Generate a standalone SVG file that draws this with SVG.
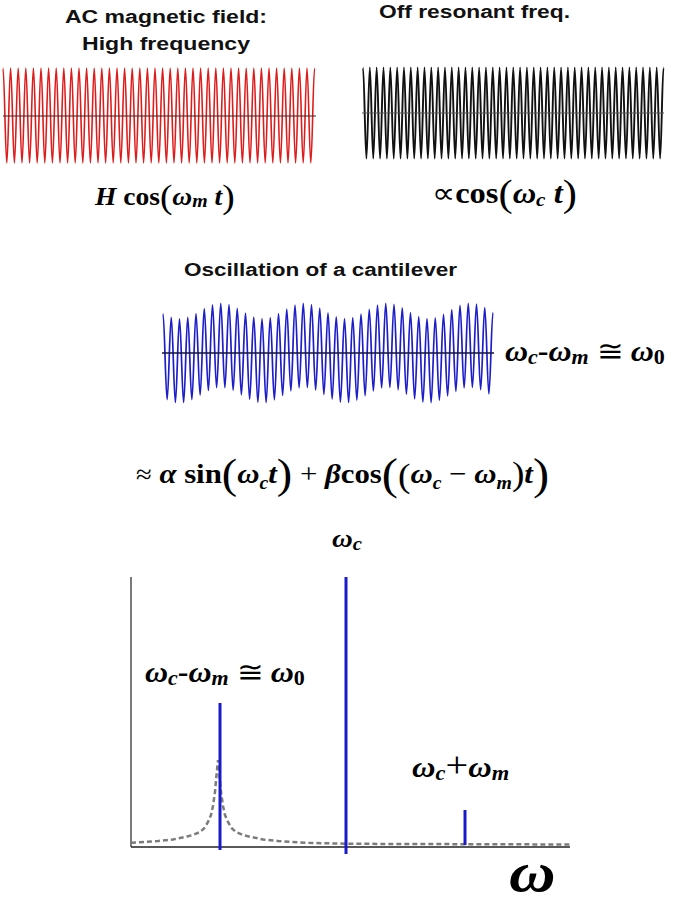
<svg xmlns="http://www.w3.org/2000/svg" width="685" height="904" viewBox="0 0 685 904">
<style>
.h{font-family:"Liberation Sans",Arial,sans-serif;font-weight:bold;font-size:18px;fill:#111}
.m{font-family:"Liberation Serif","Times New Roman",serif;font-weight:bold;fill:#000}
.i{font-style:italic}
.n{font-weight:normal}
.ax{stroke:#222;stroke-width:1.2;fill:none}
.spk{stroke:#1a1ac8;stroke-width:3;fill:none}
</style>
<rect width="685" height="904" fill="#fff"/>

<g id="red-wave">
<path fill="none" stroke="#dd1c1c" stroke-width="1.6" d="M3,68 c1.384,0 2.416,95 3.8,95
s2.416,-95 3.8,-95 s2.416,95 3.8,95 s2.416,-95 3.8,-95 s2.416,95 3.8,95 s2.416,-95 3.8,-95 s2.416,95 3.8,95 s2.416,-95 3.8,-95 s2.416,95 3.8,95 s2.416,-95 3.8,-95 s2.416,95 3.8,95
s2.416,-95 3.8,-95 s2.416,95 3.8,95 s2.416,-95 3.8,-95 s2.416,95 3.8,95 s2.416,-95 3.8,-95 s2.416,95 3.8,95 s2.416,-95 3.8,-95 s2.416,95 3.8,95 s2.416,-95 3.8,-95 s2.416,95 3.8,95
s2.416,-95 3.8,-95 s2.416,95 3.8,95 s2.416,-95 3.8,-95 s2.416,95 3.8,95 s2.416,-95 3.8,-95 s2.416,95 3.8,95 s2.416,-95 3.8,-95 s2.416,95 3.8,95 s2.416,-95 3.8,-95 s2.416,95 3.8,95
s2.416,-95 3.8,-95 s2.416,95 3.8,95 s2.416,-95 3.8,-95 s2.416,95 3.8,95 s2.416,-95 3.8,-95 s2.416,95 3.8,95 s2.416,-95 3.8,-95 s2.416,95 3.8,95 s2.416,-95 3.8,-95 s2.416,95 3.8,95
s2.416,-95 3.8,-95 s2.416,95 3.8,95 s2.416,-95 3.8,-95 s2.416,95 3.8,95 s2.416,-95 3.8,-95 s2.416,95 3.8,95 s2.416,-95 3.8,-95 s2.416,95 3.8,95 s2.416,-95 3.8,-95 s2.416,95 3.8,95
s2.416,-95 3.8,-95 s2.416,95 3.8,95 s2.416,-95 3.8,-95 s2.416,95 3.8,95 s2.416,-95 3.8,-95 s2.416,95 3.8,95 s2.416,-95 3.8,-95 s2.416,95 3.8,95 s2.416,-95 3.8,-95 s2.416,95 3.8,95
s2.416,-95 3.8,-95 s2.416,95 3.8,95 s2.416,-95 3.8,-95 s2.416,95 3.8,95 s2.416,-95 3.8,-95 s2.416,95 3.8,95 s2.416,-95 3.8,-95 s2.416,95 3.8,95 s2.416,-95 3.8,-95 s2.416,95 3.8,95
s2.416,-95 3.8,-95 s2.416,95 3.8,95 s2.416,-95 3.8,-95 s2.416,95 3.8,95 s2.416,-95 3.8,-95 s2.416,95 3.8,95 s2.416,-95 3.8,-95 s2.416,95 3.8,95 s2.416,-95 3.8,-95 s2.416,95 3.8,95
s2.416,-95 3.8,-95"/>
<line x1="3" y1="116" x2="316" y2="116" stroke="#3a2020" stroke-width="1"/>
</g>

<g id="black-wave">
<path fill="none" stroke="#111" stroke-width="1.9" d="M363,67.5 c1.244,0 2.171,91 3.415,91
s2.171,-91 3.415,-91 s2.171,91 3.415,91 s2.171,-91 3.415,-91 s2.171,91 3.415,91 s2.171,-91 3.415,-91 s2.171,91 3.415,91 s2.171,-91 3.415,-91 s2.171,91 3.415,91 s2.171,-91 3.415,-91 s2.171,91 3.415,91
s2.171,-91 3.415,-91 s2.171,91 3.415,91 s2.171,-91 3.415,-91 s2.171,91 3.415,91 s2.171,-91 3.415,-91 s2.171,91 3.415,91 s2.171,-91 3.415,-91 s2.171,91 3.415,91 s2.171,-91 3.415,-91 s2.171,91 3.415,91
s2.171,-91 3.415,-91 s2.171,91 3.415,91 s2.171,-91 3.415,-91 s2.171,91 3.415,91 s2.171,-91 3.415,-91 s2.171,91 3.415,91 s2.171,-91 3.415,-91 s2.171,91 3.415,91 s2.171,-91 3.415,-91 s2.171,91 3.415,91
s2.171,-91 3.415,-91 s2.171,91 3.415,91 s2.171,-91 3.415,-91 s2.171,91 3.415,91 s2.171,-91 3.415,-91 s2.171,91 3.415,91 s2.171,-91 3.415,-91 s2.171,91 3.415,91 s2.171,-91 3.415,-91 s2.171,91 3.415,91
s2.171,-91 3.415,-91 s2.171,91 3.415,91 s2.171,-91 3.415,-91 s2.171,91 3.415,91 s2.171,-91 3.415,-91 s2.171,91 3.415,91 s2.171,-91 3.415,-91 s2.171,91 3.415,91 s2.171,-91 3.415,-91 s2.171,91 3.415,91
s2.171,-91 3.415,-91 s2.171,91 3.415,91 s2.171,-91 3.415,-91 s2.171,91 3.415,91 s2.171,-91 3.415,-91 s2.171,91 3.415,91 s2.171,-91 3.415,-91 s2.171,91 3.415,91 s2.171,-91 3.415,-91 s2.171,91 3.415,91
s2.171,-91 3.415,-91 s2.171,91 3.415,91 s2.171,-91 3.415,-91 s2.171,91 3.415,91 s2.171,-91 3.415,-91 s2.171,91 3.415,91 s2.171,-91 3.415,-91 s2.171,91 3.415,91 s2.171,-91 3.415,-91 s2.171,91 3.415,91
s2.171,-91 3.415,-91 s2.171,91 3.415,91 s2.171,-91 3.415,-91 s2.171,91 3.415,91 s2.171,-91 3.415,-91 s2.171,91 3.415,91 s2.171,-91 3.415,-91 s2.171,91 3.415,91 s2.171,-91 3.415,-91 s2.171,91 3.415,91
s2.171,-91 3.415,-91 s2.171,91 3.415,91 s2.171,-91 3.415,-91 s2.171,91 3.415,91 s2.171,-91 3.415,-91 s2.171,91 3.415,91
s2.171,-91 3.415,-91"/>
<line x1="362" y1="113" x2="664" y2="113" stroke="#555" stroke-width="1"/>
</g>

<g id="blue-wave">
<path fill="none" stroke="#1e1ec8" stroke-width="1.7" d="M163,313.5 C164.502,313.5 165.623,399.6 167.125,399.6
S169.748,317.3 171.25,317.3 S173.873,402.4 175.375,402.4 S177.998,318.8 179.5,318.8 S182.123,402.4 183.625,402.4 S186.248,317.3 187.75,317.3 S190.373,399.6 191.875,399.6 S194.498,313.5 196,313.5 S198.623,395.1 200.125,395.1
S202.748,308.7 204.25,308.7 S206.873,390.5 208.375,390.5 S210.998,304.8 212.5,304.8 S215.123,387.7 216.625,387.7 S219.248,303.3 220.75,303.3 S223.373,387.6 224.875,387.6 S227.498,304.6 229,304.6 S231.623,390.3 233.125,390.3
S235.748,308.4 237.25,308.4 S239.873,394.8 241.375,394.8 S243.998,313.2 245.5,313.2 S248.123,399.4 249.625,399.4 S252.248,317.1 253.75,317.1 S256.373,402.3 257.875,402.3 S260.498,318.7 262,318.7 S264.623,402.5 266.125,402.5
S268.748,317.5 270.25,317.5 S272.873,399.8 274.375,399.8 S276.998,313.7 278.5,313.7 S281.123,395.4 282.625,395.4 S285.248,309 286.75,309 S289.373,390.8 290.875,390.8 S293.498,305 295,305 S297.623,387.8 299.125,387.8
S301.748,303.3 303.25,303.3 S305.873,387.5 307.375,387.5 S309.998,304.5 311.5,304.5 S314.123,390.1 315.625,390.1 S318.248,308.1 319.75,308.1 S322.373,394.5 323.875,394.5 S326.498,312.9 328,312.9 S330.623,399.1 332.125,399.1
S334.748,316.9 336.25,316.9 S338.873,402.2 340.375,402.2 S342.998,318.7 344.5,318.7 S347.123,402.5 348.625,402.5 S351.248,317.6 352.75,317.6 S355.373,400.1 356.875,400.1 S359.498,314 361,314 S363.623,395.7 365.125,395.7
S367.748,309.3 369.25,309.3 S371.873,391 373.375,391 S375.998,305.2 377.5,305.2 S380.123,387.9 381.625,387.9 S384.248,303.3 385.75,303.3 S388.373,387.4 389.875,387.4 S392.498,304.3 394,304.3 S396.623,389.8 398.125,389.8
S400.748,307.9 402.25,307.9 S404.873,394.2 406.375,394.2 S408.998,312.6 410.5,312.6 S413.123,398.9 414.625,398.9 S417.248,316.7 418.75,316.7 S421.373,402.1 422.875,402.1 S425.498,318.7 427,318.7 S429.623,402.6 431.125,402.6
S433.748,317.8 435.25,317.8 S437.873,400.3 439.375,400.3 S441.998,314.3 443.5,314.3 S446.123,396 447.625,396 S450.248,309.5 451.75,309.5 S454.373,391.3 455.875,391.3 S458.498,305.4 460,305.4 S462.623,388 464.125,388
S466.748,303.3 468.25,303.3 S470.873,387.4 472.375,387.4 S474.998,304.2 476.5,304.2 S479.123,389.6 480.625,389.6 S483.248,307.6 484.75,307.6 S487.373,393.9 488.875,393.9 S491.498,312.3 493,312.3"/>
<line x1="162" y1="353" x2="494" y2="353" stroke="#15153a" stroke-width="1.5"/>
</g>

<g id="titles">
<text class="h" x="65" y="23" textLength="202" lengthAdjust="spacingAndGlyphs">AC magnetic field:</text>
<text class="h" x="82" y="50" textLength="168" lengthAdjust="spacingAndGlyphs">High frequency</text>
<text class="h" x="379" y="18" textLength="191" lengthAdjust="spacingAndGlyphs">Off resonant freq.</text>
<text class="h" x="184" y="276" textLength="273" lengthAdjust="spacingAndGlyphs">Oscillation of a cantilever</text>
</g>

<g id="formulas">
<text class="m" font-size="25" transform="translate(95,205) scale(1.1,1)"><tspan class="i">H</tspan> cos<tspan class="n" font-size="34" dy="3">(</tspan><tspan class="i" dy="-3">ω</tspan><tspan class="i" font-size="18" dy="2">m</tspan><tspan class="i" dy="-2"> t</tspan><tspan class="n" font-size="34" dy="3">)</tspan></text>
<text class="m" font-size="29" transform="translate(432,203) scale(1.12,1)"><tspan class="n">∝</tspan>cos<tspan class="n" font-size="38" dy="3">(</tspan><tspan class="i" dy="-3">ω</tspan><tspan class="i" font-size="19" dy="3">c</tspan><tspan class="i" dy="-3"> t</tspan><tspan class="n" font-size="38" dy="3">)</tspan></text>
<text class="m" font-size="29" transform="translate(505,361) scale(1.1,1)"><tspan class="i">ω</tspan><tspan class="i" font-size="20" dy="3">c</tspan><tspan dy="-3">-</tspan><tspan class="i">ω</tspan><tspan class="i" font-size="20" dy="3">m</tspan><tspan class="n" dy="-3"> ≅ </tspan><tspan class="i">ω</tspan><tspan font-size="20" dy="3">0</tspan></text>
<text class="m" font-size="28" transform="translate(136,483) scale(1.1,1)"><tspan class="n" font-size="26">≈</tspan> <tspan class="i">α</tspan> sin<tspan class="n" font-size="42" dy="5">(</tspan><tspan class="i" dy="-5">ω</tspan><tspan class="i" font-size="18" dy="6">c</tspan><tspan class="i" dy="-6">t</tspan><tspan class="n" font-size="42" dy="5">)</tspan><tspan class="n" dy="-5"> + </tspan><tspan class="i">β</tspan>cos<tspan class="n" font-size="44" dy="6">(</tspan><tspan class="n" font-size="34" dy="-2">(</tspan><tspan class="i" dy="-4">ω</tspan><tspan class="i" font-size="18" dy="6">c</tspan><tspan class="n" dy="-6"> − </tspan><tspan class="i">ω</tspan><tspan class="i" font-size="18" dy="6">m</tspan><tspan class="n" font-size="34" dy="-4">)</tspan><tspan class="i" dy="-2">t</tspan><tspan class="n" font-size="44" dy="6">)</tspan></text>
</g>

<g id="spectrum">
<line class="ax" x1="131" y1="577" x2="131" y2="847" stroke="#888"/>
<line x1="131" y1="847" x2="570" y2="847" stroke="#222" stroke-width="1.6"/>
<path fill="none" stroke="#7c7c7c" stroke-width="2.5" stroke-dasharray="5 3" d="M131,842.8 L158,841 L173,839.5 L187,836.5 L193,835 L200,832 L204,828.5 L208,822 L211,815 L213,806 L215,792 L216.7,773 L218,760 L219.3,773 L221,792 L223,806 L225,815 L228,822 L232,828.5 L236,832 L243,835 L249,836.5 L263,839.5 L278,841 L305,842.8 L350,843.8 L570,844.5"/>
<line class="spk" x1="220" y1="703" x2="220" y2="850"/>
<line class="spk" x1="346" y1="577" x2="346" y2="854"/>
<line class="spk" x1="465" y1="810" x2="465" y2="845"/>
</g>

<g id="spectrum-labels">
<text class="m" font-size="25" transform="translate(332,547) scale(1.15,1)"><tspan class="i">ω</tspan><tspan class="i" font-size="18" dy="3">c</tspan></text>
<text class="m" font-size="29" transform="translate(145,682) scale(1.1,1)"><tspan class="i">ω</tspan><tspan class="i" font-size="20" dy="3">c</tspan><tspan dy="-3">-</tspan><tspan class="i">ω</tspan><tspan class="i" font-size="20" dy="3">m</tspan><tspan class="n" dy="-3"> ≅ </tspan><tspan class="i">ω</tspan><tspan font-size="20" dy="3">0</tspan></text>
<text class="m" font-size="29" transform="translate(412,777) scale(1.12,1)"><tspan class="i">ω</tspan><tspan class="i" font-size="20" dy="3">c</tspan><tspan class="n" font-size="36" dy="-3">+</tspan><tspan class="i">ω</tspan><tspan class="i" font-size="20" dy="3">m</tspan></text>
<text class="m i" font-size="56" transform="translate(509,891) scale(1.15,1)">ω</text>
</g>
</svg>
